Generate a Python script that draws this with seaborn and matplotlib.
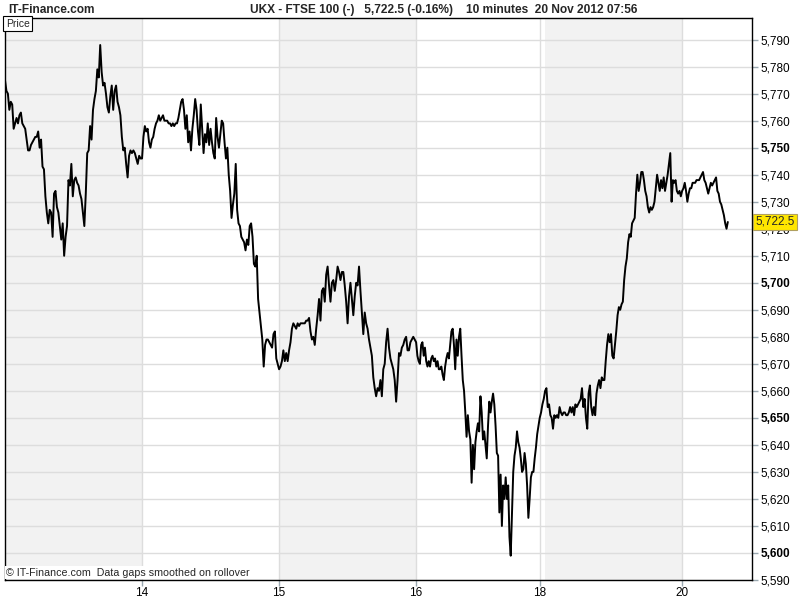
import numpy as np
import pandas as pd
import seaborn as sns
import matplotlib.pyplot as plt

# FTSE 100, 10 minute closes, one list per session
day_names = ['13', '14', '15', '16', '18', '19', '20']
session_bars = [51, 51, 51, 46, 2, 51, 17]
shaded_days = ['13', '15', '19']
tick_days = ['14', '15', '16', '18', '20']

day13 = [5775, 5771, 5770, 5764, 5767, 5766, 5757, 5759, 5761, 5759, 5762, 5763, 5759, 5758,
         5757, 5753, 5749, 5749, 5751, 5752, 5753, 5754, 5754, 5756, 5750, 5753, 5743, 5742,
         5732, 5726, 5722, 5727, 5726, 5717, 5733, 5734, 5728, 5726, 5721, 5716, 5722, 5710,
         5717, 5721, 5738, 5736, 5744, 5732, 5738, 5739, 5737, 5736, 5733, 5731, 5726, 5721,
         5733, 5748, 5749, 5758, 5753, 5764, 5768, 5771, 5779, 5776, 5788, 5778, 5773, 5774,
         5770, 5765, 5763, 5769, 5773, 5764, 5771, 5773, 5767, 5765, 5762, 5754, 5749, 5750,
         5744, 5739, 5747, 5749, 5748, 5749, 5748, 5746, 5744, 5747, 5746, 5746]
day14 = [5746, 5754, 5758, 5756, 5757, 5752, 5750, 5753, 5754, 5757, 5759, 5760, 5762, 5760,
         5761, 5762, 5760, 5760, 5760, 5759, 5759, 5758, 5759, 5758, 5759, 5759, 5761, 5764,
         5767, 5768, 5764, 5757, 5762, 5752, 5756, 5749, 5757, 5762, 5768, 5764, 5756, 5751,
         5766, 5757, 5748, 5755, 5752, 5759, 5751, 5757, 5752, 5748, 5746, 5761, 5754, 5750,
         5755, 5760, 5759, 5752, 5746, 5750, 5740, 5734, 5724, 5729, 5733, 5744, 5727, 5722,
         5721, 5717, 5716, 5715, 5712, 5716, 5714, 5721, 5722, 5717, 5707, 5706, 5710, 5694,
         5689, 5684, 5679, 5669, 5677, 5679, 5679, 5678, 5677, 5676, 5681, 5682, 5672, 5670,
         5668]
day15 = [5668, 5669, 5671, 5675, 5671, 5674, 5671, 5675, 5678, 5683, 5685, 5684, 5683, 5685,
         5684, 5685, 5685, 5685, 5685, 5686, 5686, 5687, 5682, 5679, 5680, 5677, 5683, 5688,
         5694, 5686, 5697, 5698, 5693, 5703, 5706, 5699, 5693, 5700, 5701, 5697, 5701, 5706,
         5704, 5701, 5704, 5704, 5699, 5693, 5685, 5695, 5700, 5694, 5688, 5695, 5700, 5699,
         5706, 5697, 5689, 5681, 5689, 5685, 5683, 5679, 5676, 5673, 5665, 5661, 5658, 5661,
         5660, 5664, 5658, 5668, 5670, 5678, 5683, 5676, 5672, 5670, 5668, 5664, 5656, 5664,
         5674, 5673, 5676, 5677, 5679, 5680, 5675, 5675, 5678, 5679, 5680, 5679, 5678]
day16 = [5678, 5673, 5671, 5670, 5677, 5678, 5673, 5676, 5671, 5669, 5671, 5669, 5672, 5673,
         5671, 5672, 5669, 5671, 5668, 5668, 5669, 5666, 5664, 5669, 5672, 5674, 5672, 5677,
         5682, 5683, 5677, 5668, 5679, 5673, 5680, 5683, 5673, 5664, 5660, 5652, 5643, 5651,
         5645, 5642, 5626, 5640, 5631, 5641, 5645, 5648, 5645, 5658, 5652, 5642, 5645, 5640,
         5635, 5647, 5656, 5652, 5656, 5659, 5655, 5647, 5637, 5636, 5615, 5629, 5610, 5625,
         5620, 5628, 5620, 5625, 5606, 5599, 5615, 5630, 5636, 5639, 5645, 5641, 5639, 5635,
         5630, 5631, 5637, 5633, 5625, 5613, 5620, 5628, 5630, 5630, 5635, 5639, 5644, 5647,
         5650]
day18 = [5650, 5652, 5655, 5657, 5660]
day19 = [5660, 5661, 5654, 5655, 5651, 5650, 5646, 5651, 5650, 5651, 5650, 5654, 5652, 5651,
         5652, 5652, 5651, 5651, 5652, 5654, 5652, 5654, 5651, 5655, 5654, 5655, 5656, 5657,
         5661, 5654, 5657, 5650, 5646, 5659, 5662, 5654, 5651, 5654, 5651, 5659, 5662, 5664,
         5661, 5665, 5664, 5664, 5671, 5677, 5681, 5678, 5681, 5673, 5672, 5677, 5682, 5688,
         5691, 5690, 5692, 5693, 5701, 5706, 5709, 5715, 5718, 5717, 5722, 5723, 5724, 5733,
         5740, 5734, 5737, 5741, 5741, 5738, 5734, 5732, 5728, 5726, 5728, 5727, 5728, 5730,
         5735, 5740, 5737, 5734, 5738, 5735, 5739, 5734, 5737, 5740, 5744, 5748, 5730, 5738,
         5737, 5738, 5734, 5733, 5734, 5732, 5734]
day20 = [5734, 5735, 5737, 5734, 5730, 5733, 5735, 5735, 5737, 5737, 5737, 5738, 5738, 5738,
         5739, 5740, 5741, 5738, 5737, 5735, 5733, 5735, 5737, 5736, 5737, 5738, 5739, 5734,
         5733, 5730, 5729, 5727, 5725, 5722, 5720, 5722.5]
days = [day13, day14, day15, day16, day18, day19, day20]
last_price = 5722.5
yticks = list(range(5590, 5791, 10))

sns.set_theme(style='white')
plt.rcParams['font.family'] = ['Liberation Sans', 'DejaVu Sans']

ends = np.cumsum(session_bars)
starts = ends - np.array(session_bars)
frames = []
for name, vals, s, e in zip(day_names, days, starts, ends):
    frames.append(pd.DataFrame({'t': np.linspace(s, e, len(vals)), 'price': vals, 'day': name}))
df = pd.concat(frames, ignore_index=True)

fig = plt.figure(figsize=(8, 6), dpi=100)
ax = fig.add_axes([5 / 800, 20 / 600, 747 / 800, 562 / 600])

for name, s, e in zip(day_names, starts, ends):
    if name in shaded_days:
        ax.axvspan(s, e, color='#f2f2f2', lw=0, zorder=0)

sns.lineplot(data=df, x='t', y='price', color='black', lw=1.4, sort=False,
             estimator=None, ax=ax, zorder=3)

ax.set_xlim(0, 278)
ax.set_ylim(5590, 5798)
ax.set_xlabel('')
ax.set_ylabel('')

tick_pos = [s for name, s in zip(day_names, starts) if name in tick_days]
ax.set_xticks(tick_pos, labels=tick_days)
ax.yaxis.tick_right()
ax.set_yticks(yticks, labels=[f'{v:,}' for v in yticks])
for lbl, v in zip(ax.get_yticklabels(), yticks):
    if v % 50 == 0:
        lbl.set_fontweight('bold')

ax.grid(True, color='#dddddd', lw=1, zorder=1)
ax.set_axisbelow(True)
ax.tick_params(axis='both', length=4, width=1, color='#9aa8b0', labelsize=8.5,
               labelcolor='black', pad=2)
ax.tick_params(axis='y', right=True, left=False)
ax.tick_params(axis='x', bottom=True, pad=1)
for sp in ax.spines.values():
    sp.set_visible(True)
    sp.set_color('black')
    sp.set_linewidth(1)

ax.text(0.001, 0.999, 'Price', transform=ax.transAxes, ha='left', va='top', fontsize=7.5,
        bbox=dict(facecolor='white', edgecolor='black', lw=0.8, pad=2), zorder=5)
ax.text(0.002, 0.004, '\u00a9 IT-Finance.com  Data gaps smoothed on rollover',
        transform=ax.transAxes, ha='left', va='bottom', fontsize=7.7,
        bbox=dict(facecolor='white', edgecolor='none', pad=1), zorder=5)

ax.annotate(f'{last_price:,.1f}', xy=(1.0, last_price), xycoords=('axes fraction', 'data'),
            xytext=(2.5, 0), textcoords='offset points', ha='left', va='center', fontsize=8.5,
            bbox=dict(facecolor='#ffe600', edgecolor='#b0a060', lw=0.8, pad=1.5),
            annotation_clip=False, zorder=6)

fig.text(8 / 800, 1 - 10 / 600, 'IT-Finance.com', ha='left', va='center', fontsize=8.6,
         fontweight='bold')
fig.text(250 / 800, 1 - 10 / 600,
         'UKX - FTSE 100 (-)   5,722.5 (-0.16%)    10 minutes  20 Nov 2012 07:56',
         ha='left', va='center', fontsize=8.6, fontweight='bold')

fig.savefig('out.png', dpi=100, facecolor='white')
